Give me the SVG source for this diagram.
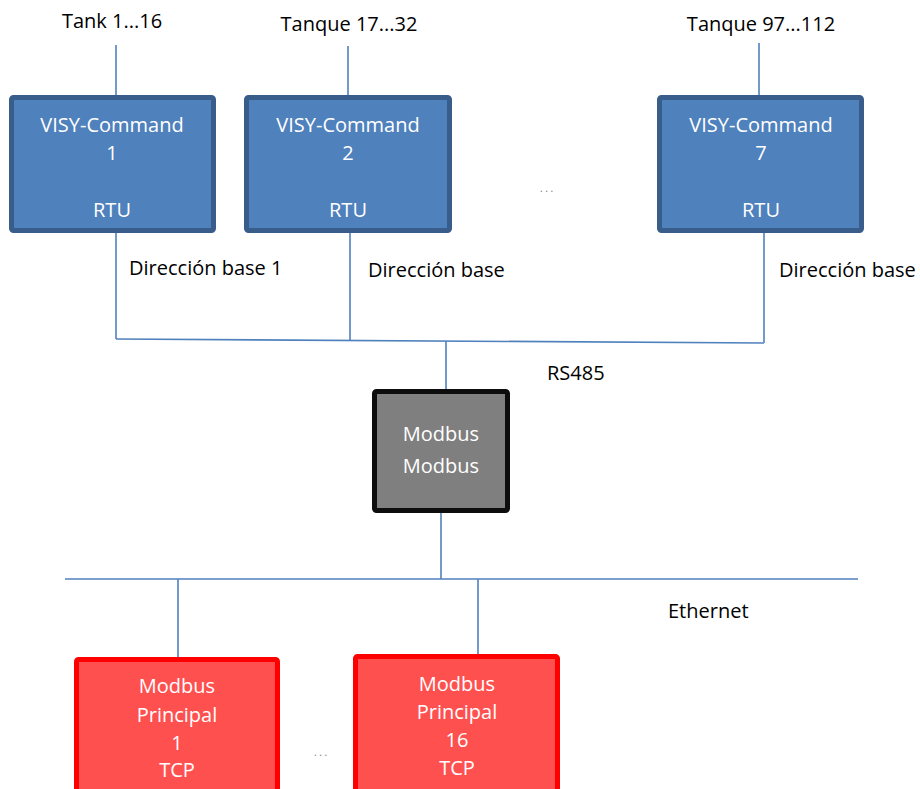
<svg xmlns="http://www.w3.org/2000/svg" width="920" height="789" viewBox="0 0 920 789">
<style>
.t{font-family:"Open Sans","Noto Sans",sans-serif;font-size:20px;fill:#000}
.w{font-family:"Open Sans","Noto Sans",sans-serif;font-size:20px;fill:#fff;text-anchor:middle}
.c{fill:none;stroke:#4f81bd;stroke-width:1.6}
.blue{fill:#4f81bd;stroke:#385d8a;stroke-width:5}
.gray{fill:#7f7f7f;stroke:#0d0d0d;stroke-width:5}
.red{fill:#ff5050;stroke:#ff0000;stroke-width:5}
.d{font-family:"Open Sans",sans-serif;font-size:10px;fill:#777}
</style>
<rect width="920" height="789" fill="#fff"/>
<g id="connectors">
<line class="c" x1="116" y1="45" x2="116" y2="95"/>
<line class="c" x1="348" y1="46" x2="348" y2="95"/>
<line class="c" x1="759" y1="43" x2="759" y2="95"/>
<line class="c" x1="116" y1="233" x2="116" y2="339"/>
<line class="c" x1="350" y1="233" x2="350" y2="340"/>
<line class="c" x1="764" y1="233" x2="764" y2="343"/>
<line class="c" x1="116" y1="339" x2="764" y2="343"/>
<line class="c" x1="446" y1="341" x2="446" y2="390"/>
<line class="c" x1="441" y1="513" x2="441" y2="579"/>
<line class="c" x1="65" y1="579" x2="858" y2="579"/>
<line class="c" x1="178" y1="579" x2="178" y2="657"/>
<line class="c" x1="478" y1="579" x2="478" y2="655"/>
</g>
<g id="labels">
<text class="t" x="112" y="28" text-anchor="middle">Tank 1...16</text>
<text class="t" x="349" y="31" text-anchor="middle">Tanque 17...32</text>
<text class="t" x="761" y="31" text-anchor="middle">Tanque 97...112</text>
<text class="t" x="129" y="275">Dirección base 1</text>
<text class="t" x="368" y="277">Dirección base</text>
<text class="t" x="779" y="277">Dirección base</text>
<text class="t" x="547" y="380">RS485</text>
<text class="t" x="668" y="618">Ethernet</text>
<text class="d" x="540" y="192">. . .</text>
<text class="d" x="314" y="756">. . .</text>
</g>
<g id="vc1">
<rect class="blue" x="11.5" y="97.5" width="202" height="133" rx="2"/>
<text class="w" x="112" y="132">VISY-Command</text>
<text class="w" x="112" y="160">1</text>
<text class="w" x="112" y="217">RTU</text>
</g>
<g id="vc2">
<rect class="blue" x="246.5" y="97.5" width="203" height="133" rx="2"/>
<text class="w" x="348" y="132">VISY-Command</text>
<text class="w" x="348" y="160">2</text>
<text class="w" x="348" y="217">RTU</text>
</g>
<g id="vc7">
<rect class="blue" x="659.5" y="97.5" width="202" height="133" rx="2"/>
<text class="w" x="761" y="132">VISY-Command</text>
<text class="w" x="761" y="160">7</text>
<text class="w" x="761" y="217">RTU</text>
</g>
<g id="gateway">
<rect class="gray" x="374.5" y="391.5" width="133" height="119" rx="2"/>
<text class="w" x="441" y="441">Modbus</text>
<text class="w" x="441" y="473">Modbus</text>
</g>
<g id="mp1">
<rect class="red" x="76.5" y="659.5" width="201" height="140" rx="2"/>
<text class="w" x="177" y="693">Modbus</text>
<text class="w" x="177" y="722">Principal</text>
<text class="w" x="177" y="750">1</text>
<text class="w" x="177" y="777">TCP</text>
</g>
<g id="mp16">
<rect class="red" x="355.5" y="656.5" width="202" height="140" rx="2"/>
<text class="w" x="457" y="691">Modbus</text>
<text class="w" x="457" y="719">Principal</text>
<text class="w" x="457" y="747">16</text>
<text class="w" x="457" y="775">TCP</text>
</g>
</svg>
